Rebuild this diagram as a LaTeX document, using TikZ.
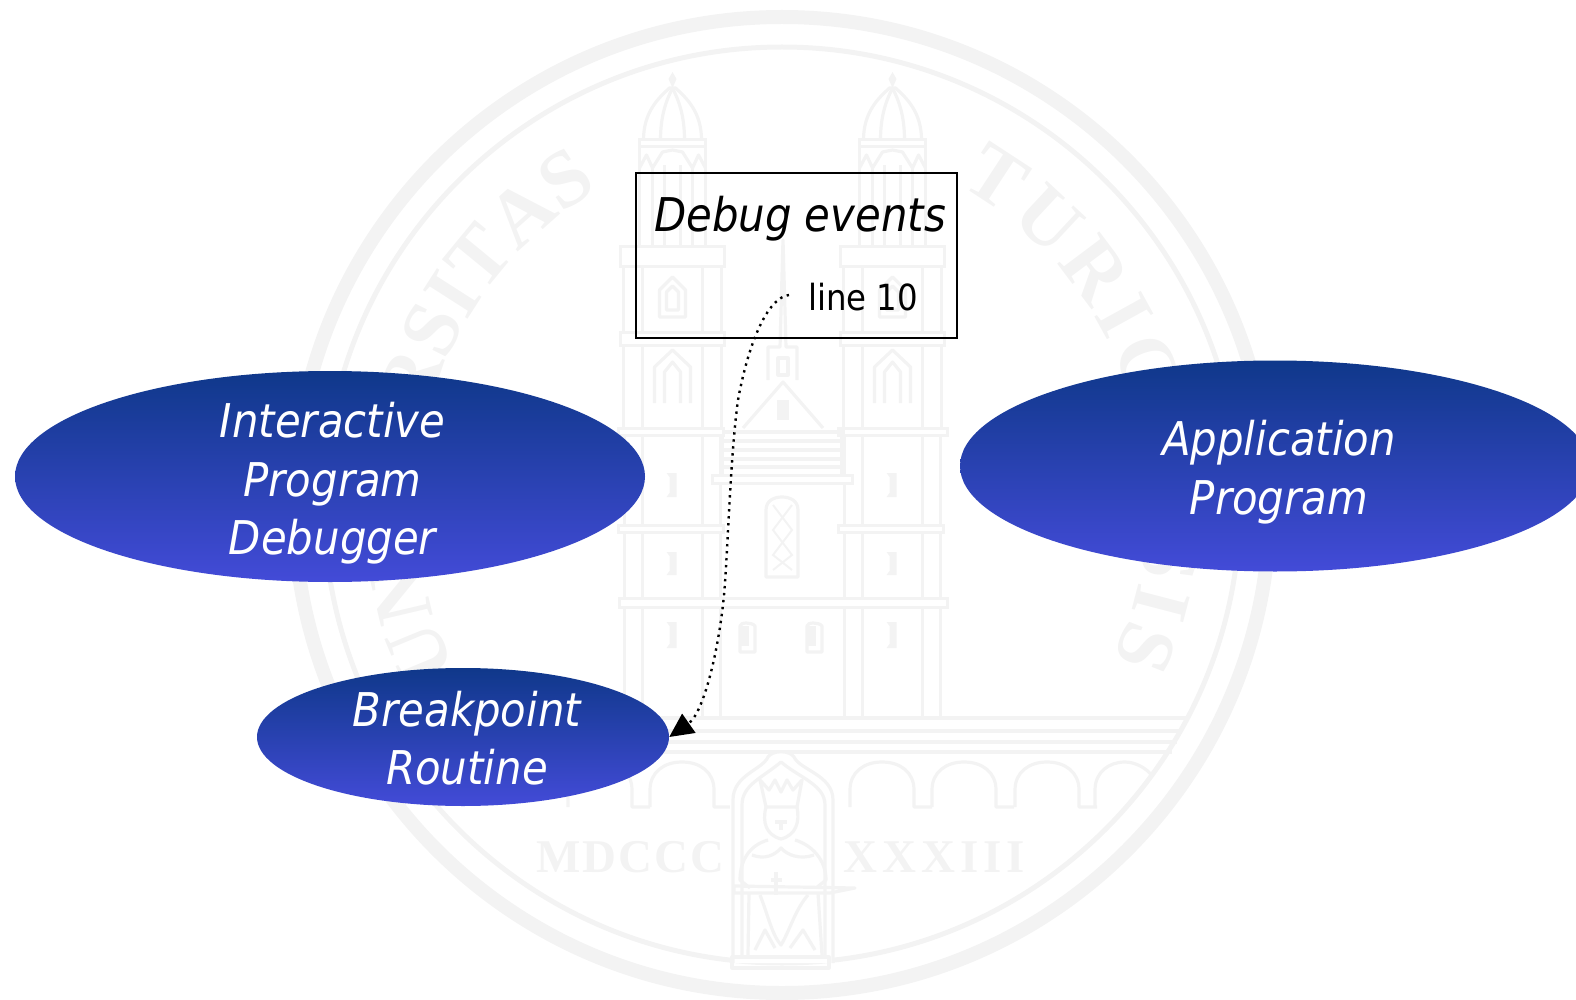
\documentclass[tikz,border=0pt]{standalone}
\usepackage{fontspec}
\usetikzlibrary{shapes.geometric,arrows.meta,decorations.text}
\setmainfont[FakeStretch=0.9]{DejaVu Sans}
\newfontfamily\wmfont{Liberation Serif Bold}
\definecolor{wm}{HTML}{F3F3F3}
\definecolor{etop}{HTML}{0F388A}
\definecolor{ebot}{HTML}{434BD8}
\tikzset{
  wmline/.style={draw=wm,line width=3.2pt,fill=none,line join=round},
  wmband/.style={draw=wm,fill=white,line width=3pt},
  blob/.style={ellipse,draw=none,inner sep=0pt,top color=etop,bottom color=ebot},
  blobtext/.style={inner sep=0pt,text=white,align=center,font=\fontsize{46.5}{58.5}\selectfont\itshape},
  evbox/.style={rectangle,draw=black,line width=2.8pt,inner sep=0pt,minimum width=321pt,minimum height=165pt},
  flow/.style={draw=black,line width=2.4pt,dash pattern=on 2.4pt off 4.6pt,-{Triangle[length=24pt,width=23pt]}}
}
\newcommand{\wmtower}[1]{%
\begin{scope}[shift={(#1,0)}]
  % dome and lantern
  \draw[wmline] (-29,-140) .. controls (-29,-112) and (-14,-98) .. (-3,-88) -- (3,-88) .. controls (14,-98) and (29,-112) .. (29,-140);
  \draw[wmline] (-12,-140) .. controls (-12,-115) and (-6,-100) .. (0,-88) .. controls (6,-100) and (12,-115) .. (12,-140);
  \fill[wm] (0,-72) -- (4,-79) -- (0,-88) -- (-4,-79) -- cycle;
  \draw[wmband] (-33,-140) rectangle (33,-147);
  % belfry
  \draw[wmline] (-33,-147) -- (-33,-247) (33,-147) -- (33,-247) (-20,-165) -- (-20,-247) (20,-165) -- (20,-247) (-8,-165) -- (-8,-247) (8,-165) -- (8,-247);
  \draw[wmline] (-33,-168) -- (-26,-155) -- (-20,-168) -- (-10,-152) -- (0,-150) -- (10,-152) -- (20,-168) -- (26,-155) -- (33,-168);
  % upper levels
  \draw[wmline] (-49,-267) -- (-49,-332) (49,-267) -- (49,-332) (-30,-267) -- (-30,-332) (30,-267) -- (30,-332);
  \draw[wmline] (-49,-345) -- (-49,-428) (49,-345) -- (49,-428) (-30,-345) -- (-30,-428) (30,-345) -- (30,-428);
  \draw[wmline] (-13,-317) -- (-13,-290) -- (0,-277) -- (13,-290) -- (13,-317) -- cycle;
  \draw[wmline] (-6,-310) -- (-6,-292) -- (0,-286) -- (6,-292) -- (6,-310) -- cycle;
  \draw[wmline] (-18,-403) -- (-18,-367) -- (0,-350) -- (18,-367) -- (18,-403);
  \draw[wmline] (-8,-403) -- (-8,-372) -- (0,-362) -- (8,-372) -- (8,-403);
  % lower levels
  \draw[wmline] (-48,-435) -- (-48,-718) (48,-435) -- (48,-718) (-30,-435) -- (-30,-718) (30,-435) -- (30,-718);
  \fill[wm] (-6,-473) -- (4,-473) -- (4,-497) -- (-6,-497) -- (-3,-493) -- (-3,-477) -- cycle;
  \fill[wm] (-6,-552) -- (4,-552) -- (4,-575) -- (-6,-575) -- (-3,-571) -- (-3,-556) -- cycle;
  \fill[wm] (-6,-622) -- (4,-622) -- (4,-648) -- (-6,-648) -- (-3,-644) -- (-3,-626) -- cycle;
  % cornices
  \draw[wmband] (-52,-247) rectangle (52,-267);
  \draw[wmband] (-52,-332) rectangle (52,-345);
  \draw[wmband] (-54,-428) rectangle (51,-435);
  \draw[wmband] (-54,-525) rectangle (51,-532);
\end{scope}}
\newcommand{\wmarch}[1]{%
  \draw[wmline,shift={(#1,0)}] (0,-807) -- (0,-790) .. controls (0,-772) and (14,-762) .. (32,-762) .. controls (50,-762) and (64,-772) .. (64,-790) -- (64,-807) -- (82,-807);
}
\begin{document}
\begin{tikzpicture}[x=1pt,y=1pt]
\useasboundingbox (0,0) rectangle (1576,-1000);
\clip (0,0) rectangle (1576,-1000);
\coordinate (seal) at (782,-505);
% seal watermark
\draw[wm,line width=14pt] (seal) circle[radius=488];
\draw[wm,line width=5pt] (seal) circle[radius=458];
\path[decorate,decoration={text along path,text align={fit to path},
   text={|\wmfont\fontsize{81}{81}\selectfont\color{wm}|UNIVERSITAS}}]
   (seal) ++(207:365) arc[start angle=207,end angle=122,radius=365];
\path[decorate,decoration={text along path,text align={fit to path},
   text={|\wmfont\fontsize{81}{81}\selectfont\color{wm}|TURICENSIS}}]
   (seal) ++(61:365) arc[start angle=61,end angle=-25,radius=365];
% church
\wmtower{672.5}
\wmtower{892.5}
\draw[wmline] (722,-432) -- (842,-432) (722,-441) -- (842,-441) (722,-450) -- (842,-450) (722,-459) -- (842,-459) (722,-467) -- (842,-467) (722,-432) -- (722,-475) (842,-432) -- (842,-475);
\draw[wmband] (712,-475) rectangle (852,-483);
\draw[wmline] (743,-428) -- (783,-382) -- (823,-428);
\fill[wm] (777,-420) rectangle (789,-400);
\draw[wmline] (768,-380) -- (768,-347) -- (780,-347) -- (783,-240) -- (786,-347) -- (797,-347) -- (797,-380);
\draw[wmline] (778,-375) rectangle (788,-358);
\draw[wmband] (618,-428) rectangle (723,-435);
\draw[wmband] (843,-428) rectangle (947,-435);
\draw[wmband] (619,-598) rectangle (947,-607);
\draw[wmline] (766,-577) -- (766,-510) .. controls (766,-500) and (775,-497) .. (782,-497) .. controls (789,-497) and (798,-500) .. (798,-510) -- (798,-577) -- cycle;
\draw[wm,line width=2pt] (773,-505) -- (792,-530) -- (773,-555) -- (792,-570) (792,-505) -- (773,-530) -- (792,-555) -- (773,-570);
\draw[wmline] (740,-652) -- (740,-626) .. controls (740,-622) and (752,-622) .. (755,-626) -- (755,-652) -- cycle;
\draw[wmline] (807,-652) -- (807,-626) .. controls (807,-622) and (819,-622) .. (822,-626) -- (822,-652) -- cycle;
\fill[wm] (740,-626) rectangle (749,-646);
\fill[wm] (807,-626) rectangle (816,-646);
% bridge
\draw[wmline] (388,-718) -- (1188,-718) (383,-731) -- (1181,-731) (390,-742) -- (1177,-742) (395,-752) -- (1172,-752);
\wmarch{568}\wmarch{650}\wmarch{850}\wmarch{932}\wmarch{1015}
\draw[wmline] (1095,-807) -- (1095,-790) .. controls (1095,-772) and (1109,-762) .. (1125,-762) .. controls (1135,-762) and (1147,-768) .. (1153,-777);
% king in niche
\fill[white] (730,-963) -- (730,-800) .. controls (730,-775) and (762,-770) .. (768,-757) .. controls (772,-750) and (790,-750) .. (794,-757) .. controls (800,-770) and (833,-775) .. (833,-800) -- (833,-963) -- cycle;
\draw[wmline] (733,-963) -- (733,-800) .. controls (733,-775) and (762,-770) .. (768,-757) .. controls (772,-750) and (790,-750) .. (794,-757) .. controls (800,-770) and (833,-775) .. (833,-800) -- (833,-963);
\draw[wmline] (742,-958) -- (742,-805) .. controls (742,-785) and (762,-778) .. (781,-762) .. controls (800,-778) and (825,-785) .. (825,-805) -- (825,-958);
\draw[wmline] (760,-780) -- (769,-790) -- (775,-780) -- (781,-792) -- (787,-780) -- (793,-790) -- (802,-780) -- (797,-807) -- (766,-807) -- cycle;
\draw[wmline] (766,-807) .. controls (762,-822) and (766,-835) .. (781,-839) .. controls (796,-835) and (800,-822) .. (797,-807);
\draw[wmline] (775,-822) -- (787,-822) (781,-822) -- (781,-830);
\draw[wmline] (768,-840) .. controls (750,-845) and (740,-860) .. (740,-880) -- (750,-888) (795,-840) .. controls (812,-845) and (826,-860) .. (826,-880) -- (816,-888);
\draw[wmline] (752,-855) .. controls (765,-860) and (775,-855) .. (781,-848) .. controls (787,-855) and (800,-860) .. (814,-855);
\draw[wmline] (734,-886) -- (855,-888) -- (830,-893) -- (734,-893) -- cycle;
\draw[wmline] (776,-872) -- (776,-895) (771,-880) -- (782,-880);
\draw[wmline] (749,-893) -- (748,-955) (818,-893) -- (822,-955);
\draw[wmline] (760,-895) .. controls (768,-915) and (772,-935) .. (781,-945) .. controls (790,-930) and (795,-910) .. (808,-895);
\draw[wmline] (755,-950) -- (765,-930) -- (775,-948) (790,-948) -- (803,-930) -- (815,-950);
\draw[wmline] (732,-957) -- (829,-957) -- (829,-968) -- (732,-968) -- cycle;
\node[inner sep=0pt,anchor=base west,text=wm,font=\wmfont\fontsize{47}{47}\selectfont] (wmleft) at (536,-872) {M\kern 2pt D\kern 2pt C\kern 2pt C\kern 2pt C};
\node[inner sep=0pt,anchor=base west,text=wm,font=\wmfont\fontsize{47}{47}\selectfont] (wmright) at (843,-872) {X\kern 5pt X\kern 5pt X\kern 5pt I\kern 5pt I\kern 5pt I};
% diagram
\node[blob,minimum width=630pt,minimum height=211pt] (ipd) at (330,-476.5) {};
\node[blobtext] (ipdtext) at (332.5,-483.5) {Interactive\\Program\\Debugger};
\node[blob,minimum width=630pt,minimum height=211pt] (app) at (1275,-466) {};
\node[blobtext] (apptext) at (1279,-472) {Application\\Program};
\node[blob,minimum width=412pt,minimum height=138pt] (bp) at (463,-737) {};
\node[blobtext] (bptext) at (467,-738) {Breakpoint\\Routine};
\node[evbox] (box) at (796.5,-255.5) {};
\node[inner sep=0pt,anchor=base,font=\fontsize{46.5}{46.5}\selectfont\itshape] (title) at (800,-232) {Debug events};
\node[inner sep=0pt,anchor=base west,font=\fontsize{36}{36}\selectfont] (line10) at (808,-310) {line 10};
\coordinate (dotstart) at (789,-295);
\draw[flow] (dotstart) .. controls (770,-297) and (750,-335) .. (738,-400) .. controls (731,-450) and (728,-540) .. (725,-583) .. controls (721,-640) and (705,-712) .. (bp.east);
\end{tikzpicture}
\end{document}
